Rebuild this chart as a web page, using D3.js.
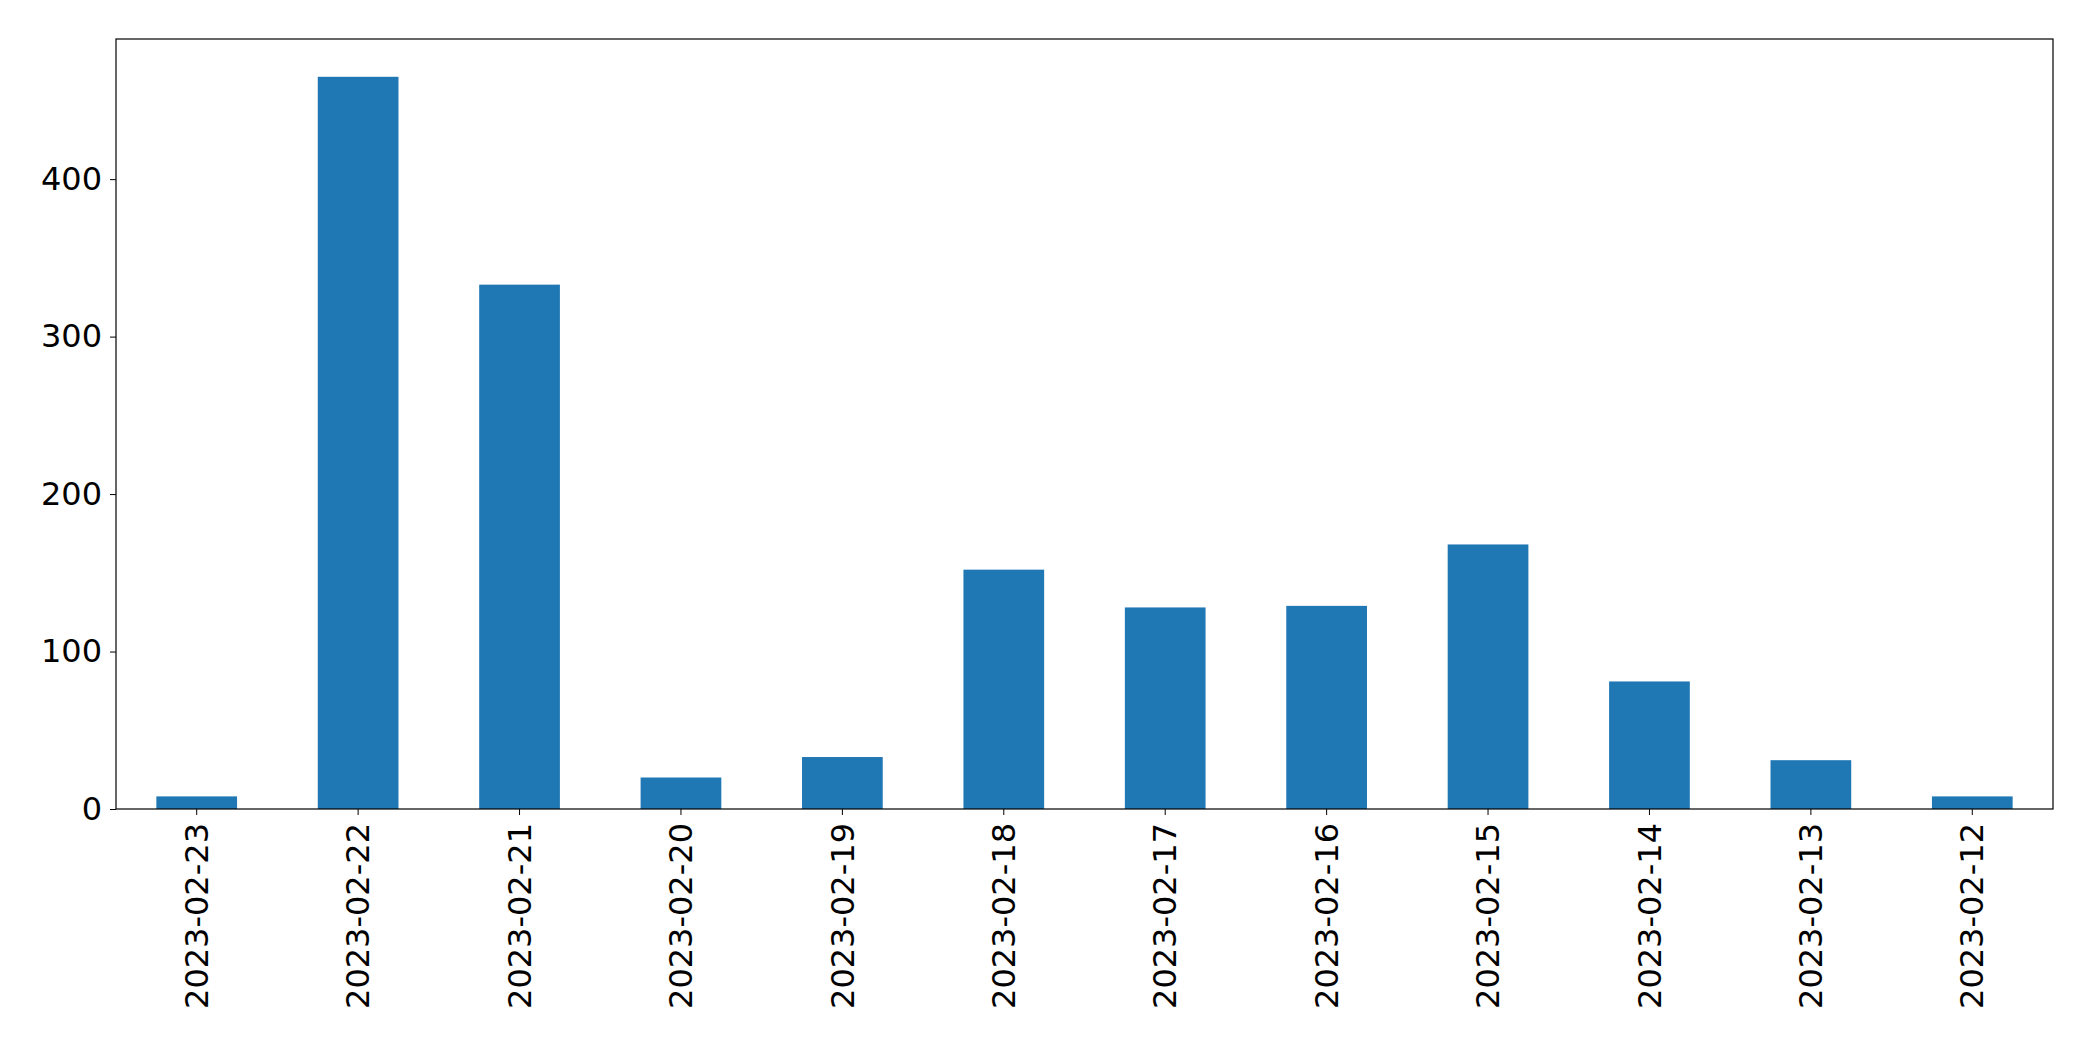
<!DOCTYPE html>
<html><head><meta charset="utf-8">
<script src="https://cdn.jsdelivr.net/npm/d3@7"></script>
<style>body{margin:0;background:#fff}</style>
</head><body><svg id="c" width="2093" height="1061"></svg>
<script>
const categories = ["2023-02-23","2023-02-22","2023-02-21","2023-02-20","2023-02-19","2023-02-18","2023-02-17","2023-02-16","2023-02-15","2023-02-14","2023-02-13","2023-02-12"];
const values = [8,465,333,20,33,152,128,129,168,81,31,8];
const yTicks = [0,100,200,300,400];

const m = {l:116, r:2093-2053, t:39, b:1061-809};
const W = 2093-m.l-m.r, H = 1061-m.t-m.b;
const svg = d3.select("#c");
const g = svg.append("g").attr("transform",`translate(${m.l},${m.t})`);
const x = d3.scaleBand().domain(categories).range([0,W]).paddingInner(0.5).paddingOuter(0.25);
const y = d3.scaleLinear().domain([0,489]).range([H,0]);

g.selectAll("rect.bar").data(values).enter().append("rect")
 .attr("x",(d,i)=>x(categories[i])).attr("width",x.bandwidth())
 .attr("y",d=>y(d)).attr("height",d=>H-y(d)).attr("fill","#1f77b4");

const font = "DejaVu Sans, sans-serif";
const ya = g.append("g").call(d3.axisLeft(y).tickValues(yTicks).tickSize(6).tickPadding(8));
ya.selectAll("text").style("font-family",font).style("font-size","32px").attr("fill","#000");
const xa = g.append("g").attr("transform",`translate(0,${H})`).call(d3.axisBottom(x).tickSize(6).tickPadding(8));
xa.selectAll("text").style("font-family",font).style("font-size","32px").attr("fill","#000")
 .attr("transform","rotate(-90)").attr("text-anchor","end").attr("x",-14).attr("y",0).attr("dy","0.35em");
svg.selectAll(".domain").remove();
g.append("rect").attr("width",W).attr("height",H).attr("fill","none").attr("stroke","#000").attr("stroke-width",1.2);
</script></body></html>
